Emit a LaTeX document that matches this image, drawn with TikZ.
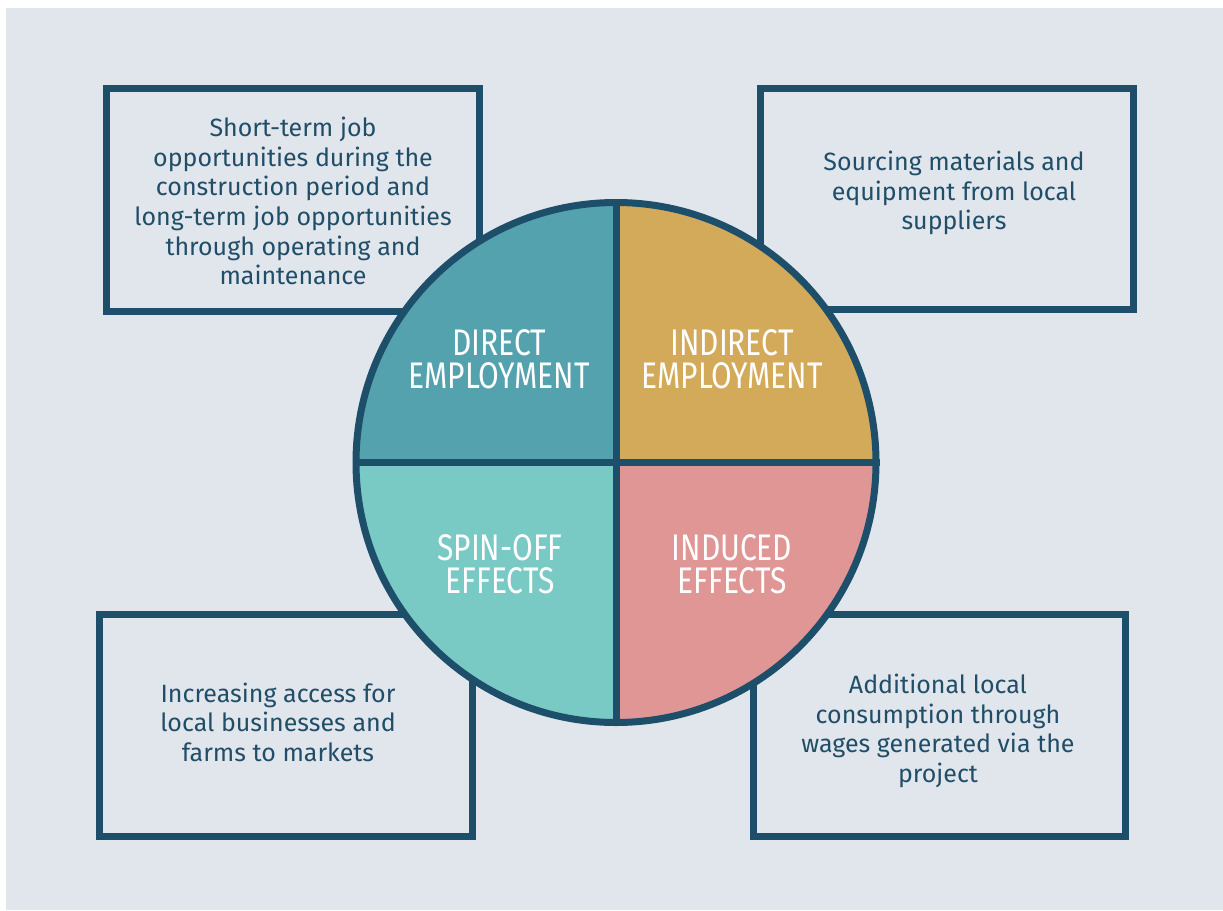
\documentclass[tikz,border=0pt]{standalone}
\usepackage{fontspec}
\setmainfont{Fira Sans}
\newfontfamily\headfont[FakeStretch=0.81]{Fira Sans}
\definecolor{bg}{HTML}{E1E6EC}
\definecolor{navy}{HTML}{1D4F6B}
\definecolor{txt}{HTML}{204E69}
\definecolor{qdirect}{HTML}{55A2AF}
\definecolor{qindirect}{HTML}{D3A95A}
\definecolor{qspin}{HTML}{79CAC5}
\definecolor{qinduced}{HTML}{DF9694}
\begin{document}
\begin{tikzpicture}[x=1pt,y=-1pt,
  boxframe/.style={draw=navy, line width=7pt, inner sep=0pt},
  bodytext/.style={text=txt, align=center, inner sep=0pt, font=\fontsize{25}{29.6}\selectfont},
  headtext/.style={text=white, align=center, inner sep=0pt, font=\headfont\fontsize{37}{33}\selectfont},
  rule/.style={draw=navy, line width=7pt}]
\useasboundingbox (0,0) rectangle (1223,910);
\fill[white] (0,0) rectangle (1223,910);
\fill[bg] (6,8) rectangle (1223,910);
% boxes
\node[boxframe, minimum width=373pt, minimum height=223pt] (b1) at (293,200) {};
\node[boxframe, minimum width=373pt, minimum height=221pt] (b2) at (947,199) {};
\node[boxframe, minimum width=373pt, minimum height=222pt] (b3) at (286,725.5) {};
\node[boxframe, minimum width=372pt, minimum height=222pt] (b4) at (939.5,725.5) {};
\node[bodytext] (t1) at (293,201) {Short-term job\\opportunities during the\\construction period and\\long-term job opportunities\\through operating and\\maintenance};
\node[bodytext] (t2) at (954,193) {Sourcing materials and\\equipment from local\\suppliers};
\node[bodytext] (t3) at (278,722) {Increasing access for\\local businesses and\\farms to markets};
\node[bodytext] (t4) at (938,731) {Additional local\\consumption through\\wages generated via the\\project};
% wheel
\begin{scope}
\clip (616,462.5) circle[radius=260pt];
\fill[qdirect] (356,202.5) rectangle (616,462.5);
\fill[qindirect] (616,202.5) rectangle (876,462.5);
\fill[qspin] (356,462.5) rectangle (616,722.5);
\fill[qinduced] (616,462.5) rectangle (876,722.5);
\end{scope}
\node[circle, draw=navy, line width=7pt, minimum size=520pt, inner sep=0pt] (wheel) at (616,462.5) {};
\draw[rule] (wheel.north) -- (wheel.south);
\draw[rule] (wheel.west) -- (wheel.east);
\node[headtext] (h1) at (499,359) {DIRECT\\EMPLOYMENT};
\node[headtext] (h2) at (732,359) {INDIRECT\\EMPLOYMENT};
\node[headtext] (h3) at (500,564) {SPIN-OFF\\EFFECTS};
\node[headtext] (h4) at (732,564) {INDUCED\\EFFECTS};
\end{tikzpicture}
\end{document}
